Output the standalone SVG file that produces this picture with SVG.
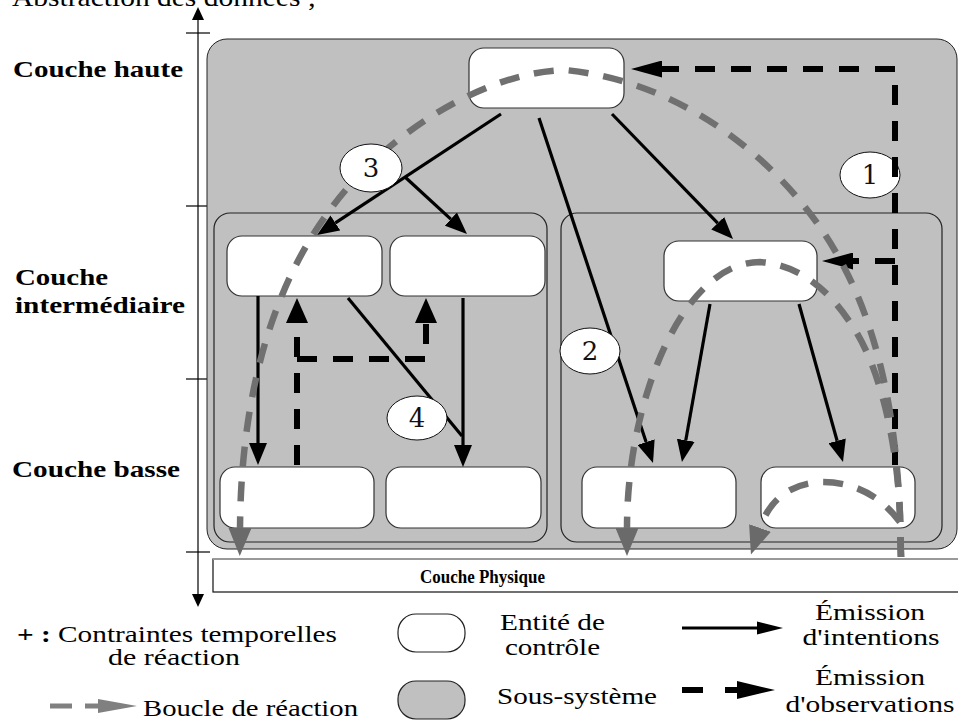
<svg xmlns="http://www.w3.org/2000/svg" width="958" height="722" viewBox="0 0 958 722">
  <style>
    .label { font-family: "Liberation Serif", serif; font-weight: bold; font-size: 24px; fill: #000; }
    .phys { font-family: "Liberation Serif", serif; font-weight: bold; font-size: 19px; fill: #000; }
    .legend-text { font-family: "Liberation Serif", serif; font-size: 23px; fill: #000; }
    .title { font-family: "Liberation Serif", serif; font-size: 25px; fill: #000; }
    .num { font-family: "DejaVu Serif", serif; font-size: 26px; fill: #111; text-anchor: middle; }
    .system { fill: #c0c0c0; stroke: #222; stroke-width: 1; }
    .subsystem { fill: #c0c0c0; stroke: #222; stroke-width: 1.2; }
    .entity { fill: #fff; stroke: #333; stroke-width: 1.2; }
    .tag { fill: #fff; stroke: #111; stroke-width: 1; }
    .intent { fill: none; stroke: #000; stroke-width: 3.2; marker-end: url(#intentHead); }
    .intent-plain { fill: none; stroke: #000; stroke-width: 3.2; }
    .obs { fill: none; stroke: #000; stroke-width: 6; stroke-dasharray: 20 16; }
    .loop { fill: none; stroke: #707070; stroke-width: 6.5; stroke-dasharray: 20 15; marker-end: url(#loopHead); }
    .axis { stroke: #000; stroke-width: 1.2; }
  </style>
  <defs>
    <marker id="intentHead" markerUnits="userSpaceOnUse" markerWidth="22" markerHeight="18" viewBox="0 0 22 18" refX="0" refY="9" orient="auto">
      <path d="M0,0 L22,9 L0,18 z" fill="#000"/>
    </marker>
    <marker id="obsHead" markerUnits="userSpaceOnUse" markerWidth="31" markerHeight="17" viewBox="0 0 31 17" refX="0" refY="8.5" orient="auto">
      <path d="M0,0 L31,8.5 L0,17 z" fill="#000"/>
    </marker>
    <marker id="obsHeadWide" markerUnits="userSpaceOnUse" markerWidth="25" markerHeight="22" viewBox="0 0 25 22" refX="0" refY="11" orient="auto">
      <path d="M0,0 L25,11 L0,22 z" fill="#000"/>
    </marker>
    <marker id="loopHead" markerUnits="userSpaceOnUse" markerWidth="28" markerHeight="23" viewBox="0 0 28 23" refX="0" refY="11.5" orient="auto">
      <path d="M0,0 L28,11.5 L0,23 z" fill="#6a6a6a"/>
    </marker>
  </defs>

  <rect width="958" height="722" fill="#fff"/>

  <!-- title, cut at the top edge -->
  <text class="title" x="12" y="6" textLength="304" lengthAdjust="spacingAndGlyphs">Abstraction des données ;</text>

  <!-- vertical abstraction axis -->
  <g id="axis">
    <line class="axis" x1="198" y1="18" x2="198" y2="595"/>
    <polygon points="198,7 192,20 204,20" fill="#000"/>
    <polygon points="198,607 192,594 204,594" fill="#000"/>
    <line class="axis" x1="186" y1="33" x2="210" y2="33"/>
    <line class="axis" x1="186" y1="206" x2="210" y2="206"/>
    <line class="axis" x1="186" y1="379" x2="210" y2="379"/>
    <line class="axis" x1="186" y1="552" x2="210" y2="552"/>
  </g>

  <!-- layer names -->
  <g id="layer-labels">
    <text class="label" x="13" y="77" textLength="170" lengthAdjust="spacingAndGlyphs">Couche haute</text>
    <text class="label" x="15" y="285" textLength="93" lengthAdjust="spacingAndGlyphs">Couche</text>
    <text class="label" x="15" y="313" textLength="170" lengthAdjust="spacingAndGlyphs">intermédiaire</text>
    <text class="label" x="12" y="477" textLength="168" lengthAdjust="spacingAndGlyphs">Couche basse</text>
  </g>

  <!-- whole system -->
  <g id="system">
    <rect class="system" x="207" y="39" width="750" height="510" rx="20"/>
  </g>
  <g id="subsystem-left">
    <rect class="subsystem" x="214" y="213" width="333" height="329" rx="16"/>
  </g>
  <g id="subsystem-right">
    <rect class="subsystem" x="561" y="213" width="381" height="329" rx="16"/>
  </g>

  <!-- physical layer -->
  <g id="physical-layer">
    <rect x="213" y="559" width="760" height="33" fill="#fff" stroke="#111" stroke-width="1.2"/>
    <line x1="213" y1="559" x2="958" y2="559" stroke="#999" stroke-width="2"/>
    <text class="phys" x="420" y="583" textLength="125" lengthAdjust="spacingAndGlyphs">Couche Physique</text>
  </g>

  <!-- control entities -->
  <g id="entity-top"><rect class="entity" x="469" y="48" width="155" height="60" rx="15"/></g>
  <g id="entity-mid-left-a"><rect class="entity" x="227" y="236" width="155" height="60" rx="15"/></g>
  <g id="entity-mid-left-b"><rect class="entity" x="390" y="236" width="155" height="60" rx="15"/></g>
  <g id="entity-mid-right"><rect class="entity" x="664" y="241" width="153" height="60" rx="15"/></g>
  <g id="entity-low-left-a"><rect class="entity" x="220" y="467" width="154" height="61" rx="15"/></g>
  <g id="entity-low-left-b"><rect class="entity" x="386" y="467" width="155" height="61" rx="15"/></g>
  <g id="entity-low-right-a"><rect class="entity" x="582" y="467" width="154" height="61" rx="15"/></g>
  <g id="entity-low-right-b"><rect class="entity" x="761" y="467" width="154" height="61" rx="15"/></g>

  <g id="connectors">
    <!-- intentions (solid) -->
    <path class="intent" d="M501,114 L335.4,222.9"/>
    <path class="intent" d="M405,177 L450.8,219.1"/>
    <path class="intent" d="M539,118 L646.1,442.1"/>
    <path class="intent" d="M612,114 L717.7,223.2"/>
    <path class="intent" d="M258,296 L258,443"/>
    <path class="intent" d="M463,298 L463,445"/>
    <path class="intent-plain" d="M348,298 L462,436"/>
    <path class="intent" d="M710,304 L685.8,440.3"/>
    <path class="intent" d="M799,304 L837.1,440.8"/>

    <!-- tag 1 sits under the observation line -->
    <g id="tag-1">
      <ellipse class="tag" cx="870" cy="175" rx="30" ry="23"/>
      <text class="num" x="870" y="184">1</text>
    </g>

    <!-- observations (dashed) -->
    <path class="obs" d="M895,465 V69 H662" marker-end="url(#obsHead)"/>
    <path class="obs" d="M895,261 H853" stroke-dasharray="none" marker-end="url(#obsHead)"/>
    <path class="obs" d="M297,465 V323" marker-end="url(#obsHeadWide)"/>
    <path class="obs" d="M297,359 H426 V323" marker-end="url(#obsHeadWide)"/>

    <!-- reaction loops (grey dashed) -->
    <path class="loop" d="M901,557 L900,515 C896,420 880,330 838,256 C790,170 690,82 565,70 C480,72 380,140 330,210 C270,290 241,400 240,528"/>
    <path class="loop" d="M901,557 L900,515 C897,440 880,370 855,330 C830,290 800,265 760,262 C710,262 670,320 648,390 C632,440 627,490 627,528"/>
    <path class="loop" d="M901,557 L900,522 Q870,482 822,482 Q775,484 760,528"/>

    <g id="tag-2">
      <ellipse class="tag" cx="590" cy="351" rx="30" ry="23"/>
      <text class="num" x="590" y="360">2</text>
    </g>
    <g id="tag-3">
      <ellipse class="tag" cx="371" cy="168" rx="31" ry="24"/>
      <text class="num" x="371" y="177">3</text>
    </g>
    <g id="tag-4">
      <ellipse class="tag" cx="417" cy="418" rx="30" ry="22"/>
      <text class="num" x="417" y="427">4</text>
    </g>
  </g>

  <!-- legend -->
  <g id="legend">
    <text class="legend-text" x="17" y="642" textLength="320" lengthAdjust="spacingAndGlyphs"><tspan font-weight="bold">+ :</tspan> Contraintes temporelles</text>
    <text class="legend-text" x="108" y="665" textLength="132" lengthAdjust="spacingAndGlyphs">de réaction</text>

    <line x1="50" y1="706" x2="72" y2="706" stroke="#808080" stroke-width="5"/>
    <line x1="85" y1="706" x2="100" y2="706" stroke="#808080" stroke-width="5"/>
    <polygon points="98,699 137,706 98,713" fill="#808080"/>
    <text class="legend-text" x="143" y="716" textLength="215" lengthAdjust="spacingAndGlyphs">Boucle de réaction</text>

    <rect x="398" y="614" width="67" height="38" rx="18" fill="#fff" stroke="#222" stroke-width="1.2"/>
    <rect x="398" y="681" width="67" height="38" rx="18" fill="#c0c0c0" stroke="#222" stroke-width="1.2"/>
    <text class="legend-text" x="500" y="630" textLength="105" lengthAdjust="spacingAndGlyphs">Entité de</text>
    <text class="legend-text" x="505" y="655" textLength="95" lengthAdjust="spacingAndGlyphs">contrôle</text>
    <text class="legend-text" x="497" y="704" textLength="160" lengthAdjust="spacingAndGlyphs">Sous-système</text>

    <line x1="682" y1="628" x2="758" y2="628" stroke="#000" stroke-width="3"/>
    <polygon points="757,621.5 783,628 757,634.5" fill="#000"/>
    <line x1="682" y1="690" x2="703" y2="690" stroke="#000" stroke-width="6"/>
    <line x1="725" y1="690" x2="740" y2="690" stroke="#000" stroke-width="6"/>
    <polygon points="737,681 775,690 737,699" fill="#000"/>

    <text class="legend-text" x="870" y="620" text-anchor="middle" textLength="110" lengthAdjust="spacingAndGlyphs">Émission</text>
    <text class="legend-text" x="871" y="645" text-anchor="middle" textLength="137" lengthAdjust="spacingAndGlyphs">d'intentions</text>
    <text class="legend-text" x="870" y="685" text-anchor="middle" textLength="110" lengthAdjust="spacingAndGlyphs">Émission</text>
    <text class="legend-text" x="870" y="712" text-anchor="middle" textLength="169" lengthAdjust="spacingAndGlyphs">d'observations</text>
  </g>
</svg>
